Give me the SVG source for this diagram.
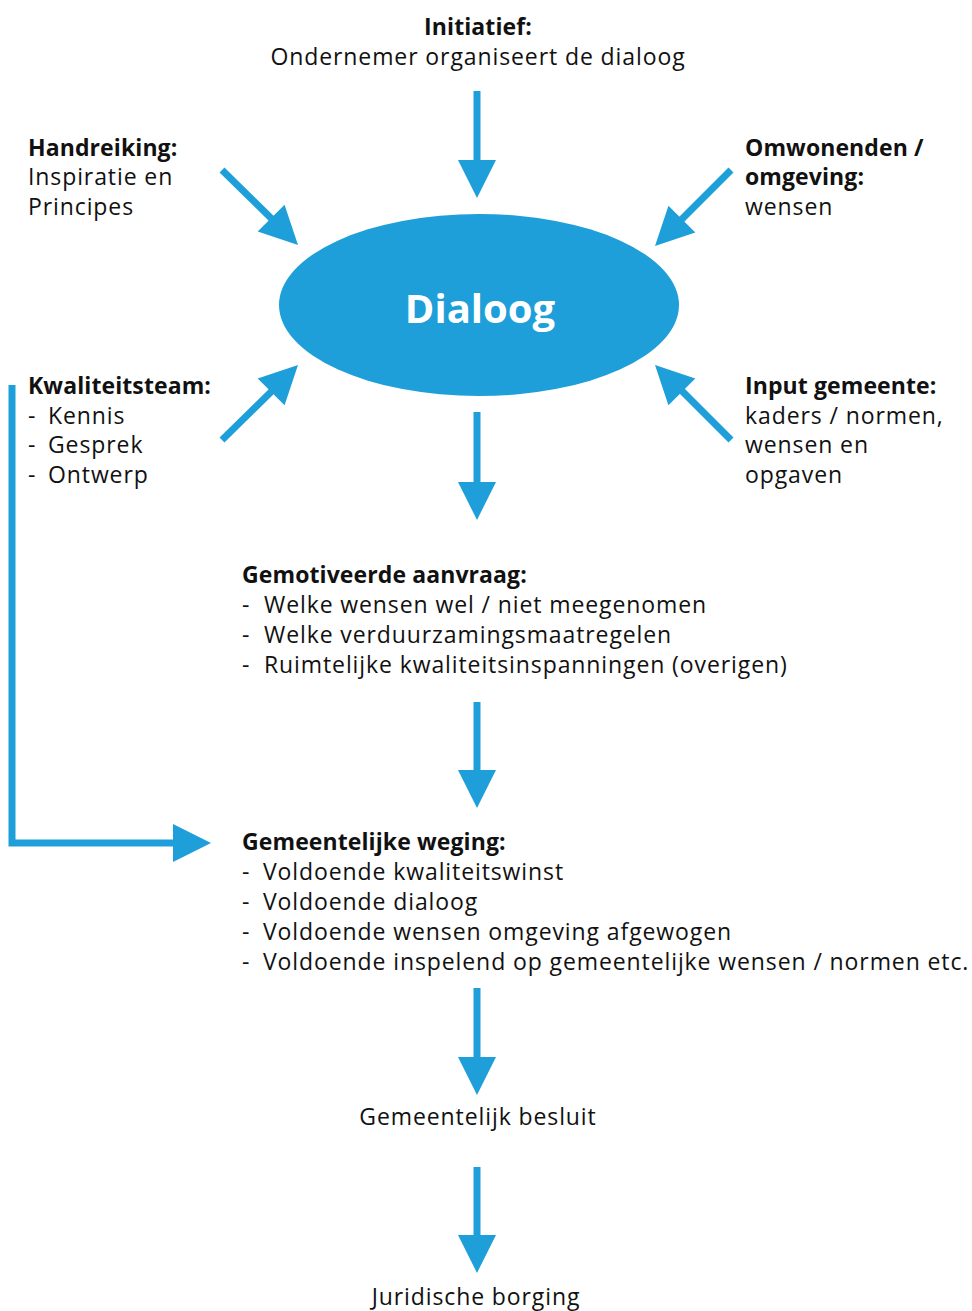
<svg xmlns="http://www.w3.org/2000/svg" xmlns:xlink="http://www.w3.org/1999/xlink" width="972" height="1311" viewBox="0 0 972 1311">
<style>
text{font-family:"Open Sans","Noto Sans","Liberation Sans",sans-serif;font-size:23px;letter-spacing:0.9px;fill:#111}
.b{font-weight:bold;letter-spacing:0.1px}
.c{text-anchor:middle}
.ln{stroke:#1e9fd9;stroke-width:7;fill:none}
.hd{fill:#1e9fd9}
</style>
<defs>
<polygon id="head" class="hd" points="0,0 -38,-19 -38,19"/>
</defs>
<rect width="972" height="1311" fill="#fff"/>
<g id="connectors">
<line class="ln" x1="477" y1="91" x2="477" y2="165"/>
<use xlink:href="#head" href="#head" transform="translate(477,198) rotate(90)"/>
<line class="ln" x1="222" y1="170" x2="278" y2="225"/>
<use xlink:href="#head" href="#head" transform="translate(298,245) rotate(45)"/>
<line class="ln" x1="731" y1="170" x2="676" y2="225"/>
<use xlink:href="#head" href="#head" transform="translate(655,246) rotate(135)"/>
<line class="ln" x1="222" y1="440" x2="278" y2="385"/>
<use xlink:href="#head" href="#head" transform="translate(298,365) rotate(-45)"/>
<line class="ln" x1="731" y1="440" x2="676" y2="385"/>
<use xlink:href="#head" href="#head" transform="translate(655,365) rotate(-135)"/>
<line class="ln" x1="477" y1="412" x2="477" y2="486"/>
<use xlink:href="#head" href="#head" transform="translate(477,520) rotate(90)"/>
<line class="ln" x1="477" y1="702" x2="477" y2="775"/>
<use xlink:href="#head" href="#head" transform="translate(477,808) rotate(90)"/>
<line class="ln" x1="477" y1="988" x2="477" y2="1062"/>
<use xlink:href="#head" href="#head" transform="translate(477,1095) rotate(90)"/>
<line class="ln" x1="477" y1="1167" x2="477" y2="1240"/>
<use xlink:href="#head" href="#head" transform="translate(477,1273) rotate(90)"/>
<polyline class="ln" points="12,385 12,843 178,843"/>
<use xlink:href="#head" href="#head" transform="translate(211,843)"/>
</g>
<g id="initiatief">
<text class="b c" x="478" y="35">Initiatief:</text>
<text class="c" x="478" y="65">Ondernemer organiseert de dialoog</text>
</g>
<g id="handreiking">
<text class="b" x="28" y="156">Handreiking:</text>
<text x="28" y="185">Inspiratie en</text>
<text x="28" y="215">Principes</text>
</g>
<g id="omwonenden">
<text class="b" x="745" y="156">Omwonenden /</text>
<text class="b" x="745" y="185">omgeving:</text>
<text x="745" y="215">wensen</text>
</g>
<g id="dialoog">
<ellipse cx="479" cy="305" rx="200" ry="91" fill="#1e9fd9"/>
<text class="b c" x="480" y="323" style="font-size:40px;fill:#fff;letter-spacing:0">Dialoog</text>
</g>
<g id="kwaliteitsteam">
<text class="b" x="28" y="394">Kwaliteitsteam:</text>
<text x="28" y="424">-</text><text x="48" y="424">Kennis</text>
<text x="28" y="453">-</text><text x="48" y="453">Gesprek</text>
<text x="28" y="483">-</text><text x="48" y="483">Ontwerp</text>
</g>
<g id="input">
<text class="b" x="745" y="394">Input gemeente:</text>
<text x="745" y="424">kaders / normen,</text>
<text x="745" y="453">wensen en</text>
<text x="745" y="483">opgaven</text>
</g>
<g id="aanvraag">
<text class="b" x="242" y="583">Gemotiveerde aanvraag:</text>
<text x="242" y="613">-</text><text x="264" y="613">Welke wensen wel / niet meegenomen</text>
<text x="242" y="643">-</text><text x="264" y="643">Welke verduurzamingsmaatregelen</text>
<text x="242" y="673">-</text><text x="264" y="673">Ruimtelijke kwaliteitsinspanningen (overigen)</text>
</g>
<g id="weging">
<text class="b" x="242" y="850">Gemeentelijke weging:</text>
<text x="242" y="880">-</text><text x="263" y="880">Voldoende kwaliteitswinst</text>
<text x="242" y="910">-</text><text x="263" y="910">Voldoende dialoog</text>
<text x="242" y="940">-</text><text x="263" y="940">Voldoende wensen omgeving afgewogen</text>
<text x="242" y="970">-</text><text x="263" y="970">Voldoende inspelend op gemeentelijke wensen / normen etc.</text>
</g>
<g id="besluit">
<text class="c" x="478" y="1125">Gemeentelijk besluit</text>
</g>
<g id="borging">
<text class="c" x="476" y="1305">Juridische borging</text>
</g>
</svg>
